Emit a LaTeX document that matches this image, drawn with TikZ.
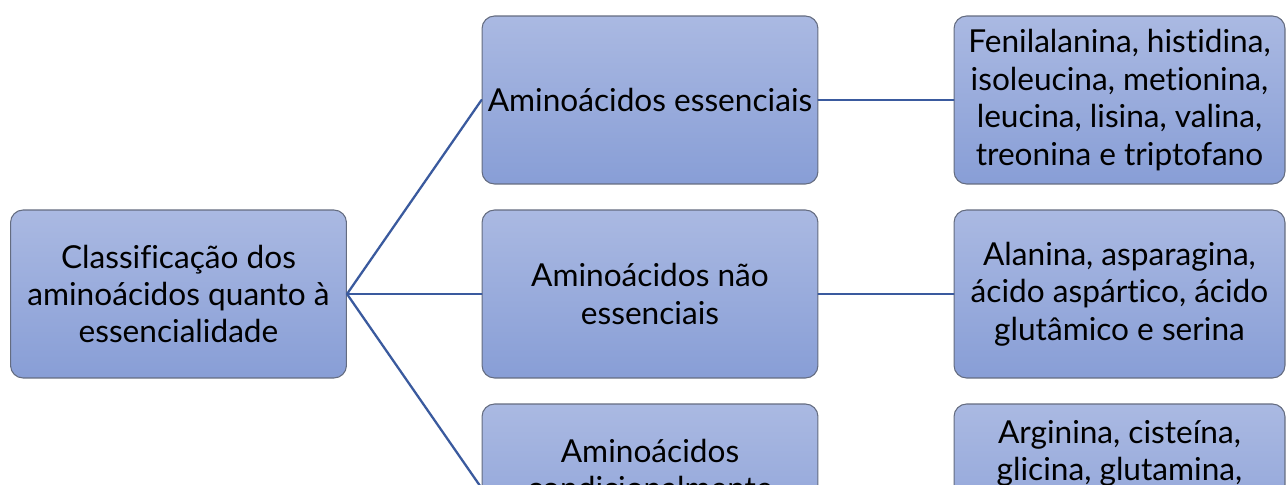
\documentclass[tikz,border=0pt]{standalone}
\usepackage{fontspec}
\setmainfont[Ligatures=NoCommon]{Lato}

\definecolor{boxtop}{RGB}{170,185,226}
\definecolor{boxbot}{RGB}{136,158,214}
\definecolor{boxline}{RGB}{100,108,128}
\definecolor{linkblue}{RGB}{58,90,158}

\begin{document}
\begin{tikzpicture}[x=0.02cm, y=-0.02cm, line cap=round, line join=round,
  box/.style={draw=boxline, line width=0.6pt, rounded corners=0.25cm,
    top color=boxtop, bottom color=boxbot, align=center, inner sep=0pt,
    minimum width=6.72cm, minimum height=3.36cm,
    font=\fontsize{18}{21.3}\selectfont},
  listbox/.style={box, minimum width=6.62cm},
  link/.style={draw=linkblue, line width=1.3pt}]

% --- Frame ---
\useasboundingbox (0,0) rectangle (1286,484);
\clip (0,0) rectangle (1286,484);

% --- Boxes ---
\node[box] (root) at (178.5,294) {Classificação dos\\aminoácidos quanto à\\essencialidade};

\node[box] (ess) at (650,100) {Aminoácidos essenciais};
\node[box] (noness) at (650,294) {Aminoácidos não\\essenciais};
\node[box] (cond) at (650,488) {Aminoácidos\\condicionalmente\\essenciais};

\node[listbox] (esslist) at (1119.5,100) {Fenilalanina, histidina,\\isoleucina, metionina,\\leucina, lisina, valina,\\treonina e triptofano};
\node[listbox] (nonesslist) at (1119.5,294) {Alanina, asparagina,\\ácido aspártico, ácido\\glutâmico e serina};
\node[listbox] (condlist) at (1119.5,488) {Arginina, cisteína,\\glicina, glutamina,\\~\\~};

% --- Connectors ---
\draw[link] (root.east) -- (ess.west);
\draw[link] (root.east) -- (noness.west);
\draw[link] (root.east) -- (cond.west);
\draw[link] (ess.east) -- (esslist.west);
\draw[link] (noness.east) -- (nonesslist.west);
\draw[link] (cond.east) -- (condlist.west);

\end{tikzpicture}
\end{document}
